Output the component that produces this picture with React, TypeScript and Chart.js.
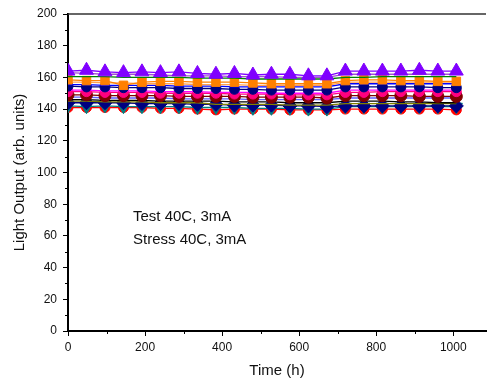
import React, { useEffect, useRef } from 'react';
import { Chart, registerables } from 'chart.js';

Chart.register(...registerables);

const times = [0, 48, 96, 144, 192, 240, 288, 336, 384, 432, 480, 528, 576, 624, 672, 720, 768, 816, 864, 912, 960, 1008];

const violetTri = [164, 164.5, 163.5, 163, 163.5, 163, 163.5, 162.5, 162, 162.5, 161.5, 162, 162, 161, 161, 164, 164, 164, 164, 164.5, 164, 164];
const purpleLine = [163, 162.5, 162, 162, 162, 161.5, 161, 161, 161, 160.5, 160.5, 160.5, 160, 160, 160, 162, 162, 162, 162, 162, 162, 162];
const greenLine = [160.5, 160.5, 160.5, 160, 160, 160, 160, 159.5, 159.5, 159.5, 159, 159, 159, 159, 159, 160, 160, 160.5, 160.5, 160.5, 160.5, 160.5];
const orangeSq = [158.5, 158, 158, 155, 157, 157.5, 157.5, 157, 157, 157, 156.5, 156, 156, 156, 156, 158, 158.5, 158.5, 158, 158, 157.5, 157.5];
const lightOrange = [157, 157, 156.5, 156.5, 156, 156, 156, 155.5, 155.5, 155.5, 155, 155, 155, 155, 155, 157, 157, 157, 157, 157, 157, 157];
const blueLine = [155.5, 155.5, 155, 155, 155, 155, 154.5, 154.5, 154.5, 154, 154, 154, 154, 154, 154, 156, 156, 156, 156, 156, 156, 156];
const navyCirc = [154.5, 154, 154, 153.5, 153.5, 153.5, 153, 153, 153, 152.5, 152.5, 152, 152, 152, 152, 154, 154, 154, 154, 154, 153.5, 153.5];
const magentaLine = [152, 152, 151.5, 151.5, 151.5, 151, 151, 151, 150.5, 150.5, 150.5, 150, 150, 150, 150, 152, 152, 152, 152, 152, 152, 152];
const pinkCirc = [151, 151, 150.5, 150.5, 150.5, 150, 150, 150, 150, 149.5, 149.5, 149.5, 149, 149, 149, 150.5, 150.5, 151, 151, 151, 151, 151];
const wineCirc = [149, 149, 148.5, 148.5, 148.5, 148.5, 148, 148, 148, 148, 147.5, 147.5, 147.5, 147.5, 147, 148.5, 148.5, 148.5, 148.5, 148, 148, 148];
const periwinkle = [147.5, 147.5, 147, 147, 147, 147, 146.5, 146.5, 146.5, 146.5, 146, 146, 146, 146, 146, 147, 147, 147, 147, 147, 147, 147];
const blackLine = [146, 146, 145.5, 145.5, 145.5, 145, 145, 145, 145, 144.5, 144.5, 144.5, 144, 144, 144, 145, 145, 145, 144.5, 144.5, 144, 144];
const oliveLine = [145, 145, 144.5, 144.5, 144.5, 144, 144, 144, 143, 143, 143, 143, 142.5, 142.5, 142.5, 143.5, 143.5, 143.5, 143.5, 143.5, 143.5, 143.5];
const navyDiam = [144, 144, 144, 144, 143.5, 143.5, 143.5, 143, 143, 142.5, 142.5, 142.5, 142, 142, 141.5, 142, 142, 142, 142, 142, 142, 142];
const tealTri = [142, 141.5, 142, 141.5, 141.5, 141.5, 141.5, 141, 141, 141, 140.5, 140.5, 140.5, 140, 140, 141.5, 141.5, 141.5, 141.5, 141.5, 141.5, 141.5];
const redCirc = [141, 141, 141, 141, 141, 140.5, 140.5, 140, 139.5, 140, 140, 140, 139.5, 139.5, 139.5, 140, 140, 140, 140, 140, 140, 139.5];

const yTicks = [0, 20, 40, 60, 80, 100, 120, 140, 160, 180, 200];
const yMinor = [10, 30, 50, 70, 90, 110, 130, 150, 170, 190];
const xTicks = [0, 200, 400, 600, 800, 1000];
const xMinor = [100, 300, 500, 700, 900];
const notes = ['Test 40C, 3mA', 'Stress 40C, 3mA'];

type S = { data: number[]; color: string; style?: any; r?: number; rot?: number };

const seriesList: S[] = [
  { data: violetTri, color: '#8000FF', style: 'triangle', r: 8 },
  { data: purpleLine, color: '#A050D0' },
  { data: greenLine, color: '#008000' },
  { data: orangeSq, color: '#FF8000', style: 'rect', r: 6 },
  { data: lightOrange, color: '#FFA050' },
  { data: blueLine, color: '#0000FF' },
  { data: navyCirc, color: '#000080', style: 'circle', r: 5 },
  { data: magentaLine, color: '#FF00FF' },
  { data: pinkCirc, color: '#FF0080', style: 'circle', r: 5 },
  { data: wineCirc, color: '#800000', style: 'circle', r: 6 },
  { data: periwinkle, color: '#6060FF' },
  { data: blackLine, color: '#000000' },
  { data: oliveLine, color: '#808000' },
  { data: navyDiam, color: '#000080', style: 'rectRot', r: 7 },
  { data: tealTri, color: '#008080', style: 'triangle', r: 7, rot: 180 },
  { data: redCirc, color: '#FF0000', style: 'circle', r: 5 },
];

const decor = {
  id: 'decor',
  afterDraw(chart: any) {
    const { ctx, chartArea, scales } = chart;
    const x = scales.x;
    const y = scales.y;
    ctx.save();
    ctx.strokeStyle = '#000';
    ctx.lineWidth = 1;
    ctx.beginPath();
    for (const v of yMinor) {
      const py = Math.round(y.getPixelForValue(v)) + 0.5;
      ctx.moveTo(chartArea.left - 3, py);
      ctx.lineTo(chartArea.left, py);
    }
    for (const v of xMinor) {
      const px = Math.round(x.getPixelForValue(v)) + 0.5;
      ctx.moveTo(px, chartArea.bottom);
      ctx.lineTo(px, chartArea.bottom + 3);
    }
    ctx.stroke();
    ctx.strokeStyle = '#333';
    ctx.lineWidth = 1.5;
    ctx.beginPath();
    ctx.moveTo(chartArea.left, chartArea.top);
    ctx.lineTo(chartArea.right, chartArea.top);
    ctx.stroke();
    ctx.fillStyle = '#111';
    ctx.font = '15px "Liberation Sans", Arial, sans-serif';
    ctx.textBaseline = 'middle';
    ctx.textAlign = 'left';
    ctx.fillText(notes[0], 133, 217);
    ctx.fillText(notes[1], 133, 240);
    ctx.restore();
  },
};

export default function App() {
  const ref = useRef<HTMLCanvasElement | null>(null);
  useEffect(() => {
    if (!ref.current) return;
    const font = '"Liberation Sans", Arial, sans-serif';
    const chart = new Chart(ref.current, {
      type: 'line',
      data: {
        datasets: seriesList.map((s) => ({
          data: s.data.map((v, i) => ({ x: times[i], y: v })),
          borderColor: s.color,
          backgroundColor: s.color,
          borderWidth: 1.3,
          pointStyle: s.style || 'circle',
          pointRadius: s.style ? s.r : 0,
          pointRotation: s.rot || 0,
          pointBorderWidth: 1,
          pointBorderColor: s.color,
          pointBackgroundColor: s.color,
          tension: 0,
        })),
      },
      options: {
        responsive: false,
        animation: false,
        devicePixelRatio: 1,
        layout: { padding: { top: 14, right: 0, left: 0, bottom: 0 } },
        plugins: { legend: { display: false }, tooltip: { enabled: false } },
        scales: {
          x: {
            type: 'linear',
            min: 0,
            max: 1085,
            afterBuildTicks: (sc: any) => {
              sc.ticks = xTicks.map((v) => ({ value: v }));
            },
            afterFit: (sc: any) => {
              sc.height = 50;
            },
            grid: { display: true, drawOnChartArea: false, drawTicks: true, tickLength: 5, color: '#000', tickWidth: 1 },
            border: { display: true, color: '#000', width: 2 },
            ticks: { color: '#111', font: { family: font, size: 12 }, padding: 4, maxRotation: 0, callback: (v: any) => String(v) },
            title: { display: true, text: 'Time (h)', color: '#111', font: { family: font, size: 15 }, padding: { top: 0, bottom: 1 } },
          },
          y: {
            type: 'linear',
            min: 0,
            max: 200,
            afterBuildTicks: (sc: any) => {
              sc.ticks = yTicks.map((v) => ({ value: v }));
            },
            afterFit: (sc: any) => {
              sc.width = 68;
            },
            grid: { display: true, drawOnChartArea: false, drawTicks: true, tickLength: 5, color: '#000', tickWidth: 1 },
            border: { display: true, color: '#000', width: 2 },
            ticks: { color: '#111', font: { family: font, size: 12 }, padding: 6, callback: (v: any) => String(v) },
            title: { display: true, text: 'Light Output (arb. units)', color: '#111', font: { family: font, size: 15 }, padding: { top: 11, bottom: 0 } },
          },
        },
      },
      plugins: [decor],
    });
    return () => chart.destroy();
  }, []);
  return (
    <div style={{ position: 'fixed', left: 0, top: 0, width: 495, height: 381, background: '#fff' }}>
      <canvas ref={ref} width={495} height={381} style={{ display: 'block', width: 495, height: 381 }} />
    </div>
  );
}
